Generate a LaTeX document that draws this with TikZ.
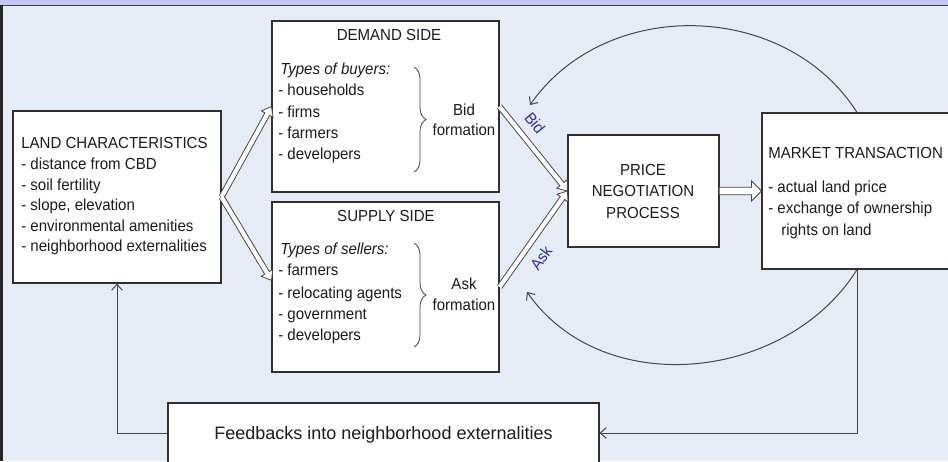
\documentclass[tikz,border=0pt]{standalone}
\usepackage{fontspec}
\setmainfont{Liberation Sans}[FakeStretch=0.94]
\newfontfamily\fbfont{Liberation Sans}
\usetikzlibrary{arrows.meta,calc,decorations.pathreplacing}

\definecolor{bgc}{HTML}{E6ECF6}
\definecolor{lav}{HTML}{C5C6F7}
\definecolor{frame}{HTML}{454545}
\definecolor{boxc}{HTML}{303030}
\definecolor{txt}{HTML}{1C1C1C}
\definecolor{navy}{HTML}{32329A}

\newcommand\szn{\fontsize{12}{14}\selectfont}
\newcommand\szf{\fbfont\fontsize{13.5}{16}\selectfont}

\begin{document}
\begin{tikzpicture}[x=0.75pt,y=-0.75pt,
  box/.style={draw=boxc, fill=white, line width=0.8pt, inner sep=0pt},
  ln/.style={inner sep=0pt, anchor=west, text height=8.6pt, text depth=0pt, font=\szn, text=txt},
  lc/.style={ln, anchor=center},
  thinarr/.style={draw=frame, line width=0.75pt, -{Straight Barb[length=4.5pt,width=8pt]}},
  brc/.style={draw=frame, line width=0.6pt, decorate, decoration={brace, amplitude=9pt}},
  lab/.style={inner sep=0pt, font=\szn, text=navy},
  % outlined block arrow: #1 half shaft width, #2 half head width, #3 head length (pt)
  hollow/.style n args={3}{draw=frame, fill=white, line width=0.6pt, line join=miter,
    to path={let \p1=(\tikztostart), \p2=(\tikztotarget),
      \n1={atan2(\y2-\y1,\x2-\x1)}, \n2={veclen(\x2-\x1,\y2-\y1)-#3} in
      ($(\p1)+(\n1+90:#1)$) -- ($(\p1)+(\n1:\n2)+(\n1+90:#1)$)
      -- ($(\p1)+(\n1:\n2)+(\n1+90:#2)$) -- (\p2)
      -- ($(\p1)+(\n1:\n2)+(\n1-90:#2)$) -- ($(\p1)+(\n1:\n2)+(\n1-90:#1)$)
      -- ($(\p1)+(\n1-90:#1)$)}}
]
\useasboundingbox (0,0) rectangle (948,461);
\clip (0,0) rectangle (948,461);

% page frame
\fill[bgc] (0,0) rectangle (948,461);
\fill[lav] (0,0) rectangle (948,5);
\draw[frame, line width=1pt] (0,5.6) -- (948,5.6);
\fill[black!85] (0,5) rectangle (3,461);

% boxes
\node[box, minimum width=156pt, minimum height=129pt] (land) at (117,197) {};
\node[box, minimum width=170.25pt, minimum height=128.25pt] (demand) at (385.5,106.5) {};
\node[box, minimum width=170.25pt, minimum height=127.5pt] (supply) at (385.5,287) {};
\node[box, minimum width=113.25pt, minimum height=84pt] (price) at (643.5,191) {};
\node[box, minimum width=142.5pt, minimum height=117pt] (mkt) at (857,191) {};
\node[box, minimum width=323.25pt, minimum height=45pt, font=\szf, text=txt,
      text height=9.6pt, text depth=0pt] (fb) at (383.5,433)
      {Feedbacks into neighborhood externalities};

% land characteristics
\foreach \ya/\la [count=\i] in {143/{LAND CHARACTERISTICS}, 164/{- distance from CBD},
    184.5/{- soil fertility}, 205/{- slope, elevation}, 225.5/{- environmental amenities},
    246/{- neighborhood externalities}}
  \node[ln] (lc\i) at (21,\ya) {\la};

% demand side
\node[lc] (dtitle) at (389,35) {DEMAND SIDE};
\node[ln] (dtypes) at (280,69) {\itshape Types of buyers:};
\foreach \ya/\la [count=\i] in {90/{- households}, 112/{- firms}, 133/{- farmers}, 154/{- developers}}
  \node[ln] (dl\i) at (278,\ya) {\la};
\draw[brc] (414,67) -- (414,172);
\node[lc] (bid1) at (464,110) {Bid};
\node[lc] (bid2) at (464,130) {formation};

% supply side
\node[lc] (stitle) at (386,216) {SUPPLY SIDE};
\node[ln] (stypes) at (280,249) {\itshape Types of sellers:};
\foreach \ya/\la [count=\i] in {270/{- farmers}, 293/{- relocating agents}, 314/{- government}, 335/{- developers}}
  \node[ln] (sl\i) at (278,\ya) {\la};
\draw[brc] (414,243) -- (414,347);
\node[lc] (ask1) at (464,284) {Ask};
\node[lc] (ask2) at (464,305) {formation};

% price negotiation
\node[lc] (p1) at (643,170) {PRICE};
\node[lc] (p2) at (643,191) {NEGOTIATION};
\node[lc] (p3) at (643,213) {PROCESS};

% market transaction
\node[ln] (m1) at (768,153) {MARKET TRANSACTION};
\node[ln] (m2) at (768,187) {- actual land price};
\node[ln] (m3) at (768,208) {- exchange of ownership};
\node[ln] (m4) at (781,230) {rights on land};

% block arrows
\path[hollow={2pt}{5pt}{6.5}] (land.east) to (demand.west);
\path[hollow={2pt}{5pt}{6.5}] (land.east) to ([yshift=5pt]supply.west);
\path[hollow={2pt}{5pt}{6.5}] (demand.east) to (price.west);
\path[hollow={2pt}{5pt}{6.5}] (supply.east) to (price.west);
\path[hollow={2.8pt}{7.5pt}{7.5}] (price.east) to (mkt.west);

\node[lab, rotate=-51] (bidlab) at (535,123) {Bid};
\node[lab, rotate=54] (asklab) at (541,258) {Ask};

% feedback arcs
\coordinate (bidin) at (530,105);
\coordinate (askin) at (527,292);
\draw[thinarr] (mkt.north) .. controls +(-71,-112) and +(76,-109) .. (bidin);
\draw[thinarr] (mkt.south) .. controls +(-70,112) and +(76,109) .. (askin);

% feedback loop
\draw[thinarr] (mkt.south) |- (fb.east);
\draw[thinarr] (fb.west) -| (land.south);
\end{tikzpicture}
\end{document}
